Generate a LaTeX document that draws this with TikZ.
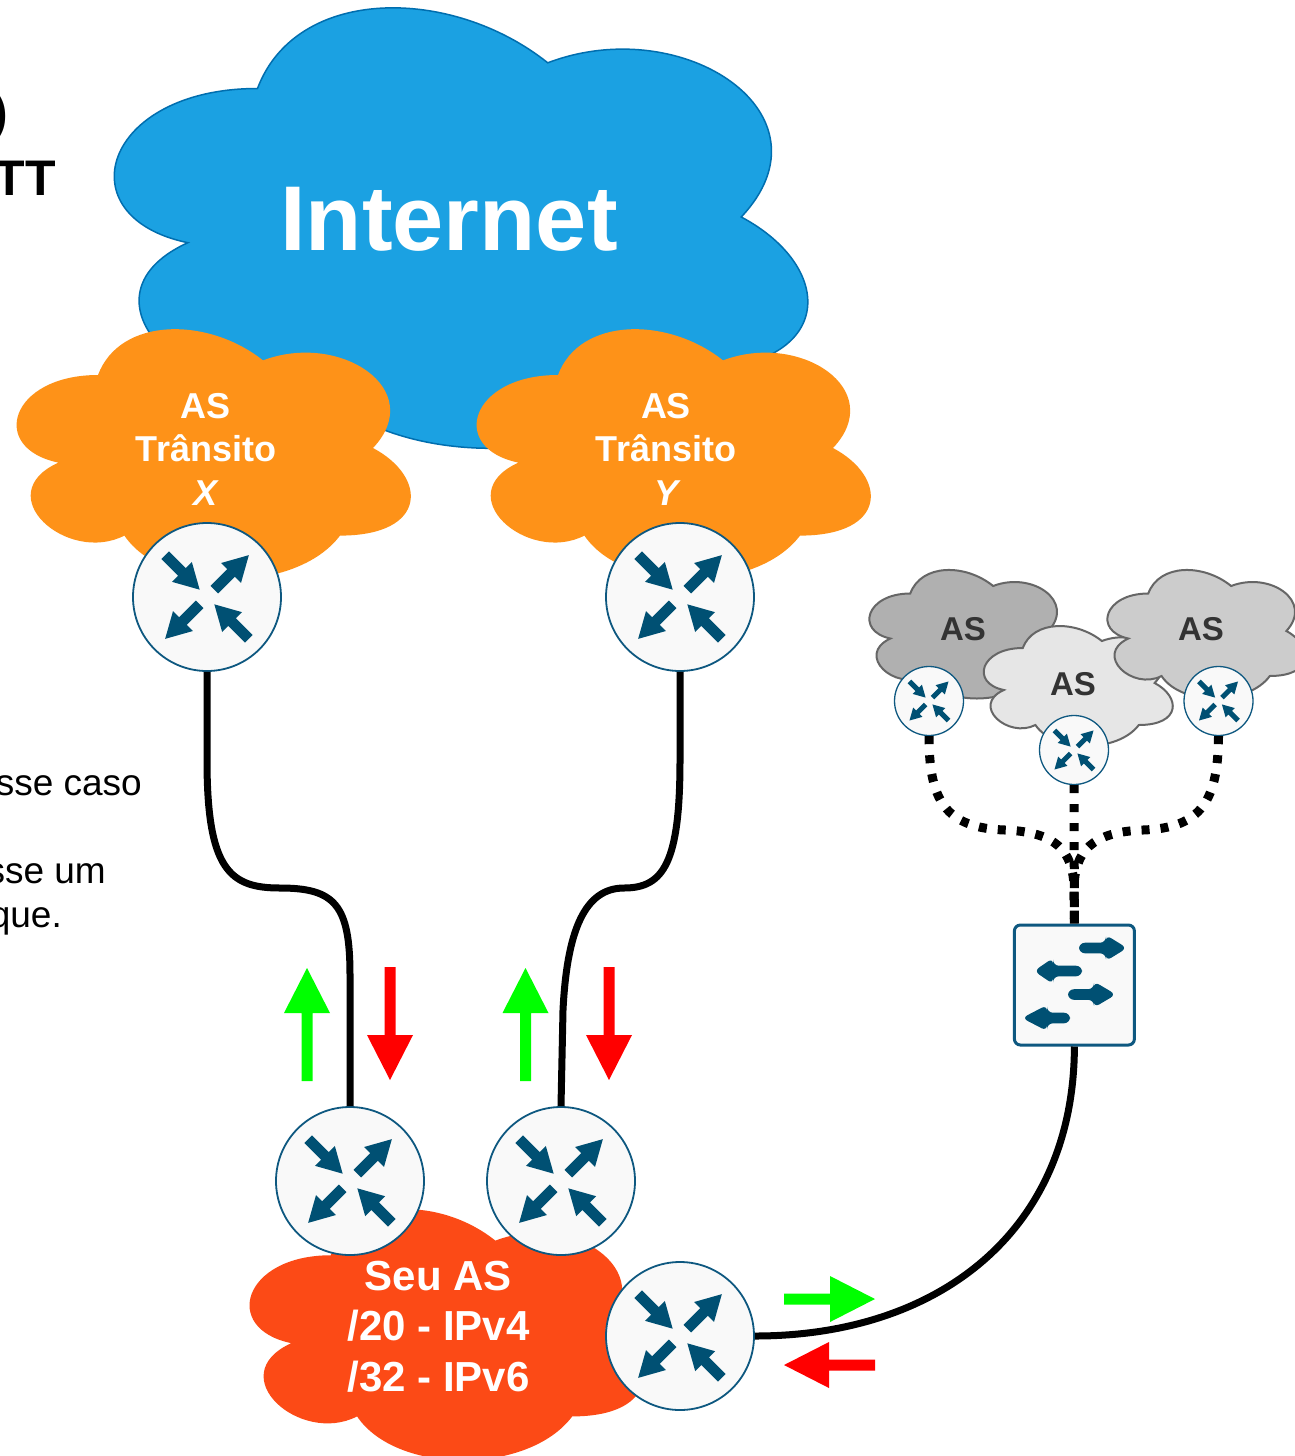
\documentclass[tikz,border=0pt]{standalone}
\usepackage{fontspec}
\setmainfont{Liberation Sans}
\definecolor{netfill}{RGB}{27,161,226}
\definecolor{netline}{RGB}{0,110,175}
\definecolor{transit}{RGB}{254,146,24}
\definecolor{ownas}{RGB}{252,74,22}
\definecolor{grayA}{RGB}{176,176,176}
\definecolor{grayB}{RGB}{230,230,230}
\definecolor{grayC}{RGB}{204,204,204}
\definecolor{grayline}{RGB}{102,102,102}
\definecolor{asgray}{RGB}{51,51,51}
\definecolor{rfill}{RGB}{249,249,249}
\definecolor{rline}{RGB}{14,88,128}
\definecolor{iconblue}{RGB}{0,80,115}
\definecolor{upgreen}{RGB}{0,255,0}
\definecolor{downred}{RGB}{255,0,0}

\newcommand\cloudshape[5]{%
  \path[#1] ({#2+0.25*#4},{#3+0.25*#5})
    .. controls ({#2+0.05*#4},{#3+0.25*#5}) and ({#2},{#3+0.5*#5}) .. ({#2+0.16*#4},{#3+0.55*#5})
    .. controls ({#2},{#3+0.66*#5}) and ({#2+0.18*#4},{#3+0.9*#5}) .. ({#2+0.31*#4},{#3+0.8*#5})
    .. controls ({#2+0.4*#4},{#3+#5}) and ({#2+0.7*#4},{#3+#5}) .. ({#2+0.8*#4},{#3+0.8*#5})
    .. controls ({#2+#4},{#3+0.8*#5}) and ({#2+#4},{#3+0.6*#5}) .. ({#2+0.875*#4},{#3+0.5*#5})
    .. controls ({#2+#4},{#3+0.3*#5}) and ({#2+0.8*#4},{#3+0.1*#5}) .. ({#2+0.625*#4},{#3+0.2*#5})
    .. controls ({#2+0.5*#4},{#3+0.05*#5}) and ({#2+0.3*#4},{#3+0.05*#5}) .. ({#2+0.25*#4},{#3+0.25*#5})
    -- cycle;}
% arrow of the router icon: direction angle, tail, head base, tip (unit = router radius)
\newcommand\routerarrow[4]{%
  \pgfmathsetmacro\rtcos{cos(#1)}\pgfmathsetmacro\rtsin{sin(#1)}%
  \fill[iconblue] ({#2*\rtcos+0.072*\rtsin},{#2*\rtsin-0.072*\rtcos})
    -- ({#3*\rtcos+0.072*\rtsin},{#3*\rtsin-0.072*\rtcos})
    -- ({#3*\rtcos+0.19*\rtsin},{#3*\rtsin-0.19*\rtcos})
    -- ({#4*\rtcos},{#4*\rtsin})
    -- ({#3*\rtcos-0.19*\rtsin},{#3*\rtsin+0.19*\rtcos})
    -- ({#3*\rtcos-0.072*\rtsin},{#3*\rtsin+0.072*\rtcos})
    -- ({#2*\rtcos-0.072*\rtsin},{#2*\rtsin+0.072*\rtcos}) -- cycle;}
\newcommand\switcharrow[4]{\fill[iconblue] (#2,{#1-5.3}) -- (#3,{#1-5.3}) -- (#3,{#1-13}) -- (#4,#1) -- (#3,{#1+13}) -- (#3,{#1+5.3}) -- (#2,{#1+5.3}) -- cycle;}
\newcommand\fatarrow[5]{\fill[#1, shift={(#2,#3)}, rotate=#5] (0,-5.5) -- ({#4-45},-5.5) -- ({#4-45},-23) -- (#4,0) -- ({#4-45},23) -- ({#4-45},5.5) -- (0,5.5) -- cycle;}

\tikzset{
  router/.style={circle, fill=rfill, draw=rline, line width=1.8pt, minimum size={2*#1*1pt}, inner sep=0pt,
    path picture={\begin{scope}[shift={(path picture bounding box.center)}, x=#1pt, y=#1pt]
      \routerarrow{45}{0.14}{0.46}{0.80}
      \routerarrow{225}{0.14}{0.46}{0.80}
      \routerarrow{-45}{-0.80}{-0.48}{-0.14}
      \routerarrow{135}{-0.80}{-0.48}{-0.14}
    \end{scope}}},
  switchbox/.style={rectangle, rounded corners=6pt, fill=rfill, draw=rline, line width=3pt,
    minimum width=120pt, minimum height=120pt, inner sep=0pt,
    path picture={\begin{scope}[shift={(path picture bounding box.center)}]
      \switcharrow{-37}{4.6}{31.6}{52.6}
      \switcharrow{-14}{7.6}{-21.4}{-40.4}
      \switcharrow{9.5}{-6.4}{19.6}{41.6}
      \switcharrow{33}{-4.4}{-27.4}{-52.4}
    \end{scope}}},
  link/.style={line width=7pt, black},
  dotlink/.style={line width=9pt, black, dash pattern=on 8pt off 11pt},
  cloudlabel/.style={text=white, font=\bfseries\fontsize{36}{43}\selectfont, inner sep=0pt, anchor=base},
  ownlabel/.style={text=white, font=\bfseries\fontsize{42}{50}\selectfont, inner sep=0pt, anchor=base},
  graylabel/.style={text=asgray, font=\bfseries\fontsize{33}{40}\selectfont, inner sep=0pt, anchor=base},
  lefttext/.style={text=black, font=\fontsize{37}{44}\selectfont, inner sep=0pt, anchor=base east},
  titletext/.style={text=black, font=\bfseries\fontsize{50}{60}\selectfont, inner sep=0pt, anchor=base east},
}

\begin{document}
\begin{tikzpicture}[x=1pt,y=-1pt]
\useasboundingbox (0,0) rectangle (1295,1456);
\fill[white] (0,0) rectangle (1295,1456);
\clip (0,0) rectangle (1295,1456);

% cut-off texts on the left
\node[titletext] (tParen) at (8,129) {)};
\node[titletext] (tTT) at (56,195) {TT};
\node[lefttext] (tCaso) at (142,795) {sse caso};
\node[lefttext] (tUm) at (106,883) {sse um};
\node[lefttext] (tQue) at (62,927) {que.};

% Internet
\cloudshape{fill=netfill, draw=netline, line width=1.5pt}{64}{-40}{774}{514}
\node[text=white, font=\bfseries\fontsize{92}{100}\selectfont, inner sep=0pt, anchor=base] (tInternet) at (449,250) {Internet};

% transit ASes
\cloudshape{fill=transit}{-12}{302}{440}{292}
\cloudshape{fill=transit}{448}{302}{440}{292}
\node[cloudlabel] (tX1) at (206,418) {AS};
\node[cloudlabel] (tX2) at (206,461.5) {Trânsito};
\node[cloudlabel, font=\bfseries\itshape\fontsize{36}{43}\selectfont] (tX3) at (206,505) {X};
\node[cloudlabel] (tY1) at (666,418) {AS};
\node[cloudlabel] (tY2) at (666,461.5) {Trânsito};
\node[cloudlabel, font=\bfseries\itshape\fontsize{36}{43}\selectfont] (tY3) at (666,505) {Y};

% own AS
\cloudshape{fill=ownas}{221}{1182}{439}{293}
\node[ownlabel] (tS1) at (438.5,1290) {Seu AS};
\node[ownlabel] (tS2) at (438.5,1340.5) {/20 - IPv4};
\node[ownlabel] (tS3) at (438.5,1391) {/32 - IPv6};

% gray ASes at the exchange
\cloudshape{fill=grayA, draw=grayline, line width=2pt}{855}{556}{221}{150}
\node[graylabel] (tG1) at (963,640) {AS};
\cloudshape{fill=grayB, draw=grayline, line width=2pt}{970}{613}{211}{140}
\node[graylabel] (tG2) at (1073,695) {AS};
\cloudshape{fill=grayC, draw=grayline, line width=2pt}{1093}{556}{221}{150}
\node[graylabel] (tG3) at (1201,640) {AS};

% routers and switch
\node[router=74] (rX) at (207,597) {};
\node[router=74] (rY) at (680,597) {};
\node[router=74] (rA) at (350,1181) {};
\node[router=74] (rB) at (561,1181) {};
\node[router=74] (rC) at (680,1336) {};
\node[router=34.5, line width=1.3pt] (s1) at (929,701) {};
\node[router=34.5, line width=1.3pt] (s2) at (1074,750) {};
\node[router=34.5, line width=1.3pt] (s3) at (1218.5,701) {};
\node[switchbox] (sw) at (1074.4,985) {};

% links
\draw[link] (rX.south) -- (207,760) .. controls (207,870) and (230,888) .. (280,888) .. controls (335,888) and (350,905) .. (350,975) -- (rA.north);
\draw[link] (rY.south) -- (680,760) .. controls (680,862) and (664,888) .. (624,888) .. controls (585,888) and (567,930) .. (563,1010) -- (rB.north);
\draw[link] (rC.east) .. controls (940,1336) and (1074,1230) .. (sw.south);
\draw[dotlink] (s1.south) .. controls (929,800) and (945,828) .. (1005,830) .. controls (1055,832) and (1074,850) .. (1074,890) -- (sw.north);
\draw[dotlink] (s3.south) .. controls (1218,800) and (1202,828) .. (1143,830) .. controls (1093,832) and (1074,850) .. (1074,890) -- (sw.north);
\draw[dotlink] (s2.south) -- (sw.north);

% traffic arrows
\fatarrow{upgreen}{307}{1081}{113}{90}
\fatarrow{downred}{390}{967}{113}{-90}
\fatarrow{upgreen}{525.5}{1081}{113}{90}
\fatarrow{downred}{609}{967}{113}{-90}
\fatarrow{upgreen}{784}{1299}{91}{0}
\fatarrow{downred}{875}{1365}{91}{180}
\end{tikzpicture}
\end{document}
